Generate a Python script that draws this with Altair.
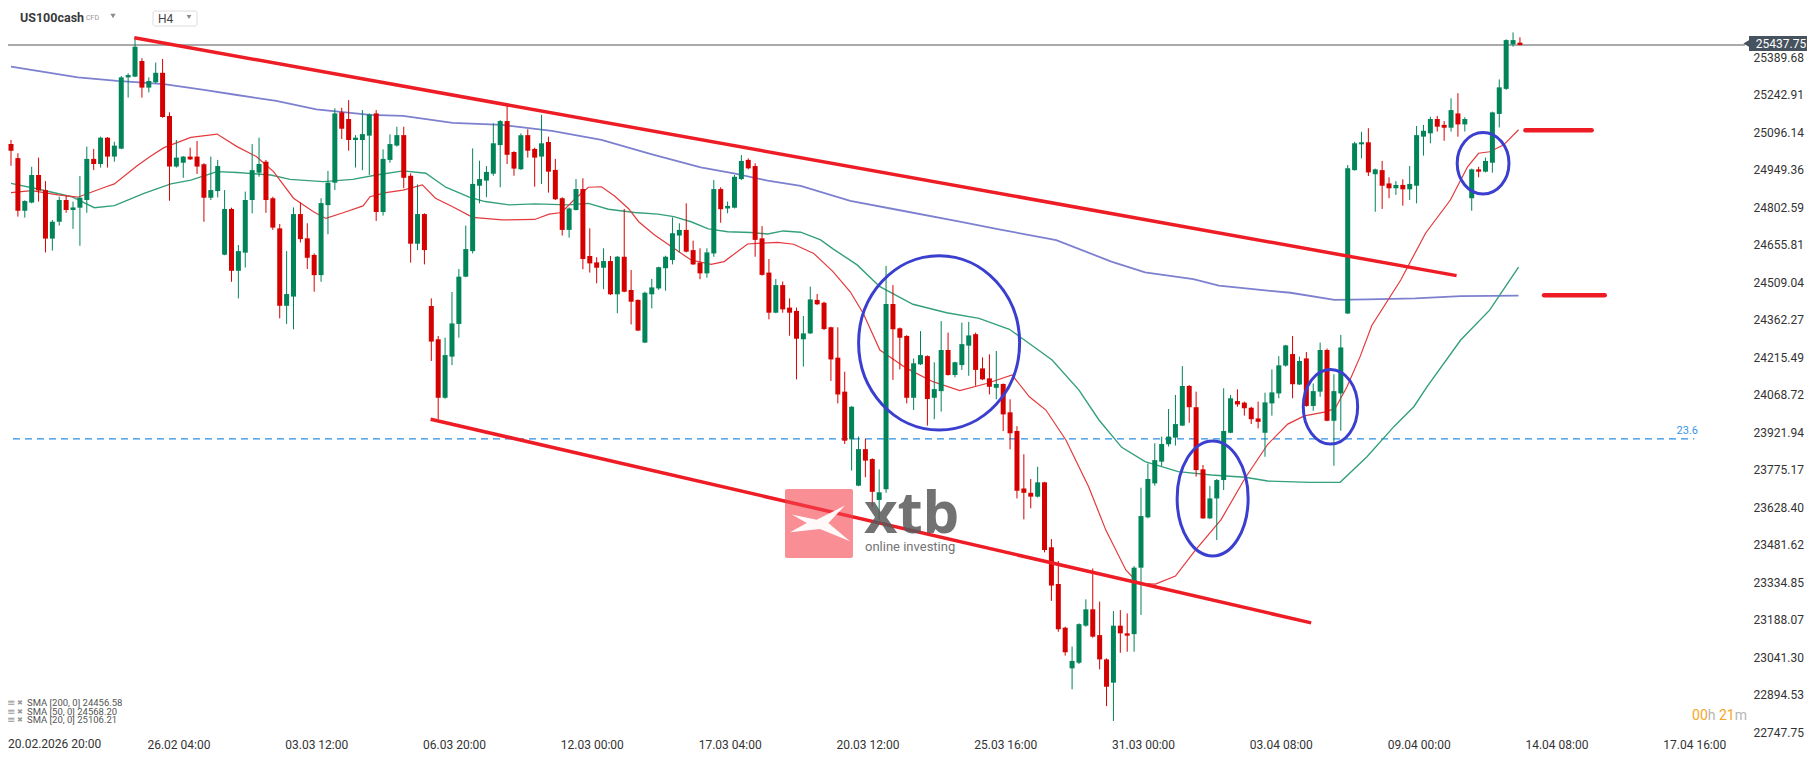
import altair as alt
import pandas as pd

# ---------------- data ----------------
candle_idx = list(range(220))
opens = [25050,24995,24789,24821,24929,24870,24680,24746,24831,24792,24801,24831,24992,24972,25075,25001,25032,25311,25314,25375,
         25271,25292,25329,25160,24962,24977,25001,25001,24971,24840,24866,24617,24796,24554,24625,24831,24938,24981,24838,24720,
         24417,24453,24776,24681,24616,24537,24811,24899,25174,25148,25066,25066,25083,25170,24784,24988,25044,25085,24926,24660,
         24776,24416,24286,24057,24218,24346,24531,24631,24887,24907,24934,25046,25140,25019,24951,25085,25031,25001,25058,24949,
         24838,24714,24792,24874,24612,24587,24566,24592,24462,24609,24479,24440,24273,24462,24485,24564,24596,24692,24714,24635,
         24586,24544,24622,24874,24798,24801,24913,24988,24964,24681,24547,24390,24498,24410,24397,24286,24309,24440,24429,24333,
         24214,24081,23894,23713,23856,23817,23657,23699,24424,24329,24299,24057,24188,24220,24057,24083,24244,24146,24185,24261,
         24306,24172,24133,24096,24111,24000,23927,23702,23685,23670,23726,23472,23328,23157,22998,23020,23165,23229,23128,23033,
         22942,23165,23135,23132,23392,23589,23722,23807,23875,23901,23948,24103,24020,23777,23585,23663,23735,23920,24044,24038,
         24018,23976,23920,24035,24074,24183,24228,24109,24211,24025,24081,24244,23967,24074,24387,24948,25049,25057,24932,24948,
         24896,24877,24890,24873,24887,25079,25092,25148,25125,25114,25170,25127,24838,24951,24942,24977,25168,25266,25440,25447]
highs = [25066,25014,24830,24961,24997,24905,24753,24844,24848,24825,24925,25040,25031,25079,25077,25059,25316,25327,25468,25386,
         25311,25369,25383,25174,25066,25003,25036,25062,24975,25001,24988,24870,24801,24655,24864,25050,25075,24988,24844,24737,
         24631,24802,24821,24740,24622,24838,24945,25190,25192,25222,25085,25183,25170,25183,25029,25088,25118,25118,24935,24892,
         24779,24446,24299,24292,24471,24561,24731,25033,24985,24964,25131,25144,25199,25022,25092,25108,25036,25164,25079,24992,
         24842,24802,24913,24916,24720,24607,24642,24612,24612,24796,24557,24442,24472,24522,24570,24613,24763,24740,24818,24672,
         24642,24642,24909,24881,24825,24929,25007,24994,24975,24729,24600,24522,24512,24446,24410,24377,24492,24463,24433,24335,
         24333,24159,24024,23905,23896,23820,23777,24573,24498,24332,24302,24211,24318,24223,24196,24357,24312,24198,24351,24354,
         24312,24215,24227,24240,24113,24051,23946,23836,23739,23787,23728,23504,23418,23161,23083,23174,23268,23389,23259,23037,
         23222,23226,23213,23398,23705,23800,23879,23905,24013,24068,24181,24107,24081,23794,23712,23739,24094,24068,24090,24042,
         24022,24042,24077,24168,24220,24264,24299,24218,24236,24113,24273,24250,24149,24303,24968,25059,25098,25112,24954,24984,
         24920,24905,24912,24964,25121,25125,25157,25160,25140,25229,25249,25155,24954,24961,24997,25177,25303,25460,25487,25468]
lows = [24965,24766,24762,24818,24825,24626,24633,24731,24781,24718,24652,24781,24948,24958,24958,24981,25030,25232,25312,25232,
        25252,25288,25153,24828,24958,24918,24988,24933,24746,24831,24841,24615,24511,24446,24567,24779,24922,24781,24714,24368,
        24346,24325,24665,24561,24472,24511,24697,24870,25070,25024,24958,24948,24929,24749,24770,24977,25040,24877,24586,24635,
        24579,24201,23973,24053,24185,24292,24529,24622,24818,24842,24926,24881,24972,24926,24949,24997,24883,24894,24860,24831,
        24692,24684,24790,24560,24547,24505,24482,24459,24388,24470,24344,24318,24271,24407,24479,24476,24579,24625,24626,24577,
        24521,24527,24609,24742,24779,24798,24909,24951,24609,24535,24364,24388,24390,24300,24129,24179,24307,24420,24322,24123,
        24035,23876,23772,23711,23746,23631,23578,23685,24127,24168,24035,24009,24185,23948,23973,24003,24144,24137,24166,24143,
        24104,24126,24070,24051,23927,23855,23663,23581,23624,23667,23452,23262,23141,23048,22916,23015,23161,23118,22994,22850,
        22792,23059,23063,23063,23207,23585,23713,23790,23866,23870,23946,23959,23748,23583,23582,23500,23696,23918,24022,23987,
        23954,23937,23826,23987,24055,24179,24055,24107,24022,24006,24061,23965,23791,23928,24385,24946,24994,24925,24785,24796,
        24838,24851,24809,24831,24818,25005,25053,25099,25063,25099,25079,25099,24789,24920,24939,24938,25115,25262,25431,25436]
closes = [25024,24789,24827,24929,24868,24680,24746,24831,24792,24802,24840,24992,24972,25075,25001,25044,25311,25320,25431,25271,
          25297,25329,25156,24962,24997,25001,24990,24962,24840,24870,24964,24796,24554,24631,24831,24948,24972,24831,24723,24417,
          24463,24776,24678,24605,24537,24819,24899,25170,25110,25066,25075,25089,25166,24784,24992,25050,25085,24918,24660,24776,
          24635,24277,24057,24224,24348,24531,24639,24894,24913,24941,25053,25140,25008,24954,25085,25024,24997,25053,24942,24834,
          24714,24798,24874,24600,24583,24566,24592,24462,24609,24472,24433,24320,24468,24489,24568,24609,24701,24714,24629,24579,
          24544,24626,24874,24795,24808,24922,24984,24955,24675,24538,24390,24498,24403,24390,24288,24309,24442,24423,24326,24207,
          24070,23889,24022,23856,23811,23689,23687,24424,24325,24292,24057,24192,24224,24052,24091,24244,24146,24196,24267,24301,
          24166,24129,24100,24111,23992,23918,23693,23685,23670,23726,23461,23322,23151,23061,23027,23171,23229,23122,23033,22926,
          23165,23135,23126,23392,23594,23739,23813,23876,23905,23954,24103,24020,23774,23585,23663,23735,23927,24055,24031,24016,
          23973,23963,24039,24078,24184,24262,24110,24201,24025,24083,24244,23967,24083,24254,24955,25053,25057,24939,24951,24887,
          24877,24890,24873,24894,25085,25102,25148,25118,25114,25183,25127,25148,24951,24942,24984,25174,25272,25457,25457,25437.75]

sma200_k = [0,9.7,15.4,22.2,28.0,32.8,38.5,44.3,52.1,56.9,64.1,71.3,78.5,85.7,92.9,100.1,104.9,109.8,114.6,121.8,
            129.0,137.7,143.4,151.7,159.7,164.6,171.6,175.3,182.4,185.7,192.1,197.0,203.8,210.4,218.8]
sma200_v = [25353,25311,25297,25285,25262,25242,25219,25186,25164,25160,25133,25125,25102,25066,25011,24959,24935,24907,24886,24828,
            24791,24746,24716,24674,24590,24548,24521,24496,24476,24468,24440,24442,24446,24455,24456.58]
sma50_k = [0,3.9,8.8,12.1,15.0,19.3,23.2,26.1,29.9,32.8,37.7,40.5,45.3,49.6,53.0,56.9,60.2,63.1,66.5,68.8,
           72.3,76.0,80.9,83.8,86.7,90.5,93.9,96.2,98.7,101.2,104.0,107.4,109.8,112.1,114.6,117.5,119.3,122.8,126.1,130.9,
           135.8,140.5,144.9,148.8,151.1,155.0,157.9,161.2,164.6,169.4,174.2,179.1,182.4,188.6,192.9,196.8,200.7,203.6,205.5,210.4,
           214.6,218.8]
sma50_v = [24896,24874,24844,24801,24809,24857,24894,24909,24942,24939,24929,24912,24903,24912,24929,24945,24936,24881,24842,24825,
           24812,24816,24812,24818,24795,24782,24776,24766,24746,24718,24707,24704,24698,24710,24705,24675,24640,24577,24492,24423,
           24390,24368,24325,24250,24205,24087,23970,23863,23807,23768,23755,23746,23731,23726,23726,23826,23944,24022,24100,24283,
           24400,24568.20]
sma20_k = [0,3.0,6.8,9.7,13.6,15.0,18.3,20.3,22.2,26.1,29.9,32.8,35.6,38.1,41.0,43.9,45.7,48.2,51.1,52.1,
           54.4,56.9,59.7,61.6,64.1,67.0,71.3,76.0,78.1,79.9,81.8,83.8,85.7,87.6,89.6,91.1,93.4,96.2,98.7,101.6,
           103.5,106.9,108.8,111.3,113.6,116.5,119.3,121.8,123.7,126.1,130.0,133.8,137.7,141.6,145.3,147.8,150.2,153.1,156.4,158.9,
           161.8,163.6,166.1,169.0,171.9,175.6,179.1,182.4,185.3,187.7,190.8,192.2,193.9,195.8,197.5,201.7,205.3,208.9,211.4,213.0,
           214.6,216.6,218.8]
sma20_v = [24860,24868,24851,24842,24881,24894,24965,25003,25036,25076,25089,25040,25001,24942,24838,24785,24759,24781,24808,24844,
           24860,24870,24890,24838,24805,24763,24753,24755,24776,24782,24834,24881,24883,24847,24798,24746,24694,24642,24596,24579,
           24590,24659,24662,24665,24658,24622,24551,24472,24387,24244,24172,24120,24085,24113,24146,24061,24009,23892,23709,23539,
           23383,23331,23328,23359,23461,23579,23742,23875,23954,23986,24002,24016,24100,24218,24340,24518,24701,24831,24961,25014,
           25020,25046,25106.21]

trend_x1 = [17.9, 60.9]
trend_y1 = [25466, 23973]
trend_x2 = [209.8, 188.7]
trend_y2 = [24535, 23176]
level_x1 = [219.8, 222.5]
level_x2 = [229.4, 231.3]
level_y = [25104, 24458]
fib_level = 23896
last_price = 25437.75

ell_k = [134.7, 174.4, 191.5, 213.65]
ell_price = [24272, 23663, 24022, 24975]
ell_rx = [80.5, 35.5, 27.2, 25.9]
ell_ry = [87.2, 57.5, 37.3, 30.7]

y_ticks = [22747.75,22894.53,23041.30,23188.07,23334.85,23481.62,23628.40,23775.17,23921.94,24068.72,
           24215.49,24362.27,24509.04,24655.81,24802.59,24949.36,25096.14,25242.91,25389.68]
first_x_label = "20.02.2026 20:00"
x_labels = ["26.02 04:00","03.03 12:00","06.03 20:00","12.03 00:00","17.03 04:00","20.03 12:00",
            "25.03 16:00","31.03 00:00","03.04 08:00","09.04 00:00","14.04 08:00","17.04 16:00"]
legend_lines = ["SMA [200, 0] 24456.58", "SMA [50, 0] 24568.20", "SMA [20, 0] 25106.21"]

# ---------------- styling ----------------
GREEN = "#02845a"
RED = "#d50000"
W, H = 1737, 710
XMIN, XMAX = 2 / 6.93, 1739 / 6.93
YMIN, YMAX = 22725.35, 25504.29
FONT = "Roboto"

XS = alt.Scale(domain=[XMIN, XMAX], nice=False, zero=False)
YS = alt.Scale(domain=[YMIN, YMAX], nice=False, zero=False)
x_tick_vals = [24.3 + 20 * n for n in range(len(x_labels))]
lab_arr = "[" + ",".join("'%s'" % s for s in x_labels) + "]"
XAX = alt.Axis(values=x_tick_vals, labelExpr=lab_arr + "[max(0, round((datum.value - 24.3) / 20))]",
               title=None, grid=False, ticks=False, domain=False, labelPadding=1,
               labelOverlap=False, labelFont=FONT, labelFontSize=12, labelColor="#333333")
YAX = alt.Axis(orient="right", values=y_ticks, format=".2f", title=None, grid=False, ticks=False, domain=False,
               labelPadding=8, labelFont=FONT, labelFontSize=12, labelColor="#333333", labelOverlap=False)


def X(f):
    return alt.X(f, type="quantitative", scale=XS, axis=XAX)


def Y(f):
    return alt.Y(f, type="quantitative", scale=YS, axis=YAX)


candles = pd.DataFrame({"k": candle_idx, "open": opens, "high": highs, "low": lows, "close": closes})
candles["dir"] = ["up" if c >= o else "down" for o, c in zip(opens, closes)]
col = alt.Color("dir:N", scale=alt.Scale(domain=["up", "down"], range=[GREEN, RED]), legend=None)

one = pd.DataFrame({"a": [0]})

layers = []

# current price line
layers.append(alt.Chart(pd.DataFrame({"p": [last_price]})).mark_rule(color="#555555", strokeWidth=1)
              .encode(y=Y("p")))
# fib 23.6 dashed line
layers.append(alt.Chart(pd.DataFrame({"x1": [XMIN], "x2": [244.3], "p": [fib_level]}))
              .mark_rule(color="#2a8fe6", strokeWidth=1.2, strokeDash=[7, 5])
              .encode(x=X("x1"), x2="x2", y=Y("p")))

# SMA lines
for ks, vs, c, w in [(sma200_k, sma200_v, "#7c80cf", 1.8), (sma50_k, sma50_v, "#34a07a", 1.4),
                     (sma20_k, sma20_v, "#e4393c", 1.2)]:
    layers.append(alt.Chart(pd.DataFrame({"k": ks, "v": vs})).mark_line(color=c, strokeWidth=w, clip=True)
                  .encode(x=X("k"), y=Y("v")))

# candles
layers.append(alt.Chart(candles).mark_rule(strokeWidth=1, clip=True)
              .encode(x=X("k"), y=Y("low"), y2="high", color=col))
layers.append(alt.Chart(candles).mark_bar(size=5, clip=True)
              .encode(x=X("k"), y=Y("open"), y2="close", color=col))

# trend lines
layers.append(alt.Chart(pd.DataFrame({"x1": trend_x1, "y1": trend_y1, "x2": trend_x2, "y2": trend_y2}))
              .mark_rule(color="#ee1c25", strokeWidth=3.5, clip=True)
              .encode(x=X("x1"), y=Y("y1"), x2="x2", y2="y2"))
layers.append(alt.Chart(pd.DataFrame({"x1": level_x1, "x2": level_x2, "p": level_y}))
              .mark_rule(color="#ee1c25", strokeWidth=4.5, strokeCap="round")
              .encode(x=X("x1"), x2="x2", y=Y("p")))


def ellipse_path(rx, ry):
    r = max(rx, ry)
    a, b, c = rx / r, ry / r, 0.5523
    return ("M {a},0 C {a},{cb} {ca},{b} 0,{b} C {nca},{b} {na},{cb} {na},0 "
            "C {na},{ncb} {nca},{nb} 0,{nb} C {ca},{nb} {a},{ncb} {a},0 Z").format(
        a=round(a, 4), b=round(b, 4), ca=round(c * a, 4), cb=round(c * b, 4), na=round(-a, 4), nb=round(-b, 4),
        nca=round(-c * a, 4), ncb=round(-c * b, 4))


for ek, ep, rx, ry in zip(ell_k, ell_price, ell_rx, ell_ry):
    r = max(rx, ry)
    layers.append(alt.Chart(pd.DataFrame({"k": [ek], "p": [ep]}))
                  .mark_point(shape=ellipse_path(rx, ry), size=4 * r * r, filled=False, strokeWidth=3,
                              color="#3b3fcf", opacity=1)
                  .encode(x=X("k"), y=Y("p")))

# watermark
layers.append(alt.Chart(one).mark_rect(color="#f5424f", opacity=0.6, cornerRadius=2)
              .encode(x=alt.value(777), x2=alt.value(845), y=alt.value(461), y2=alt.value(530)))
layers.append(alt.Chart(one).mark_point(
    shape="M -0.94,-0.28 L -0.11,-0.11 L 0.83,-0.58 L 0.28,0 L 1,0.61 L 0,0.2 L -1,0.31 L -0.44,0 Z",
    size=3600, filled=True, color="white", opacity=0.95, strokeWidth=0)
    .encode(x=alt.value(812), y=alt.value(495)))


def txt(s, x, y, **kw):
    return alt.Chart(one).mark_text(text=s, **kw).encode(x=alt.value(x), y=alt.value(y))


layers.append(txt("xtb", 856, 505, align="left", baseline="alphabetic", font="Noto Sans", fontSize=58,
                  fontWeight="bold", color="#5a5a5a", opacity=0.85))
layers.append(txt("online investing", 857, 523, align="left", baseline="alphabetic", font=FONT, fontSize=13,
                  color="#666666", opacity=0.9))

# 23.6 label
layers.append(txt("23.6", 1690, 403, align="right", baseline="middle", font=FONT, fontSize=11, color="#3a94e6"))

# first time label, flush with the left edge as in the reference
layers.append(txt(first_x_label, 0, H + 1, align="left", baseline="top", font=FONT, fontSize=12,
                  color="#333333"))

# header
layers.append(txt("US100cash", 12, -10.5, align="left", baseline="middle", font=FONT, fontSize=12.5,
                  fontWeight="bold", color="#3a3a3a"))
layers.append(txt("CFD", 78, -10, align="left", baseline="middle", font=FONT, fontSize=7, color="#999999"))
layers.append(alt.Chart(one).mark_point(shape="triangle-down", size=28, filled=True, color="#8c8c8c", opacity=1)
              .encode(x=alt.value(105), y=alt.value(-12)))
layers.append(alt.Chart(one).mark_rect(fill="white", stroke="#dcdcdc", strokeWidth=1, cornerRadius=2)
              .encode(x=alt.value(145), x2=alt.value(189), y=alt.value(-17), y2=alt.value(-2)))
layers.append(txt("H4", 150, -9.5, align="left", baseline="middle", font=FONT, fontSize=12, color="#444444"))
layers.append(alt.Chart(one).mark_point(shape="triangle-down", size=24, filled=True, color="#8c8c8c", opacity=1)
              .encode(x=alt.value(181), y=alt.value(-11)))

# SMA legend bottom-left
for i, s in enumerate(legend_lines):
    yy = 675 + 8.5 * i
    layers.append(txt("\u2261", -1, yy, align="left", baseline="middle", font="DejaVu Sans", fontSize=10,
                      color="#9a9a9a"))
    layers.append(txt("\u2716", 9, yy, align="left", baseline="middle", font="DejaVu Sans", fontSize=7,
                      color="#9a9a9a"))
    layers.append(txt(s, 19, yy, align="left", baseline="middle", font=FONT, fontSize=9.5, color="#555555"))

# countdown
for s, xr, c in [("00", 1699.8, "#f5a623"), ("h", 1707.5, "#b5b5b5"), ("21", 1726.7, "#f5a623"),
                 ("m", 1739, "#b5b5b5")]:
    layers.append(txt(s, xr, 688, align="right", baseline="middle", font=FONT, fontSize=14, color=c))

# current price tag
layers.append(alt.Chart(one).mark_rect(color="#46525d")
              .encode(x=alt.value(1741), x2=alt.value(1806), y=alt.value(8), y2=alt.value(23)))
layers.append(alt.Chart(one).mark_point(shape="triangle-left", size=70, filled=True, color="#46525d", opacity=1)
              .encode(x=alt.value(1739), y=alt.value(15.5)))
layers.append(txt("25437.75", 1773, 16, align="center", baseline="middle", font=FONT, fontSize=12, color="white"))

chart = alt.layer(*layers).properties(
    width=W, height=H,
    autosize=alt.AutoSizeParams(type="none"),
    padding={"left": 0, "top": 20, "right": 62, "bottom": 14},
    background="white",
).configure_view(stroke=None)

chart.save("out.html", embed_options={"renderer": "svg", "actions": False})
